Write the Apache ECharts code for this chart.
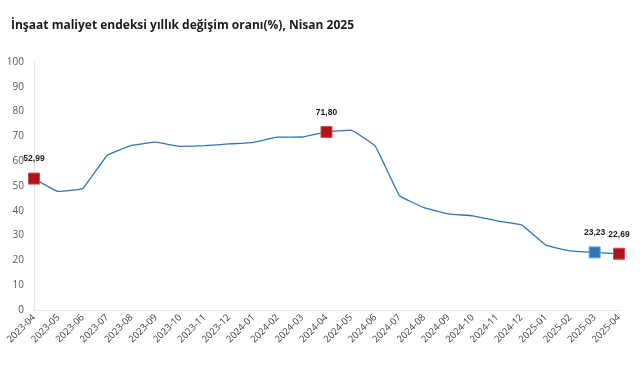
<!DOCTYPE html>
<html>
<head>
<meta charset="utf-8">
<script src="https://cdn.jsdelivr.net/npm/echarts@6/dist/echarts.min.js"></script>
<style>
html,body{margin:0;padding:0;background:#fff;}
#chart{width:641px;height:380px;}
</style>
</head>
<body>
<div id="chart"></div>
<script>
const titleText = 'İnşaat maliyet endeksi yıllık değişim oranı(%), Nisan 2025';
const categories = ['2023-04','2023-05','2023-06','2023-07','2023-08','2023-09','2023-10','2023-11','2023-12','2024-01','2024-02','2024-03','2024-04','2024-05','2024-06','2024-07','2024-08','2024-09','2024-10','2024-11','2024-12','2025-01','2025-02','2025-03','2025-04'];
const values = [52.99,47.80,48.99,62.34,66.41,67.68,65.95,66.26,66.95,67.63,69.71,69.75,71.80,72.50,66.05,46.07,41.28,38.72,37.98,35.96,34.33,26.13,23.85,23.23,22.69];
const redIdx = [0,12,24];
const blueIdx = [23];
const yTicks = [0,10,20,30,40,50,60,70,80,90,100];

const data = values.map((v, i) => {
  if (redIdx.includes(i)) {
    return {value: v, symbol: 'rect', symbolSize: 11,
      itemStyle: {color: '#b0121b', borderColor: '#d24a4f', borderWidth: 1},
      label: {show: true}};
  }
  if (blueIdx.includes(i)) {
    return {value: v, symbol: 'rect', symbolSize: 11,
      itemStyle: {color: '#2e75b6', borderColor: '#6fa8dc', borderWidth: 1},
      label: {show: true}};
  }
  return {value: v, symbol: 'none'};
});

const chart = echarts.init(document.getElementById('chart'), null, {renderer: 'canvas'});
chart.setOption({
  animation: false,
  backgroundColor: '#ffffff',
  title: {
    text: titleText, left: 6, top: 15,
    textStyle: {fontFamily: 'Open Sans', fontSize: 12, fontWeight: 'bold', color: '#1a1a1a'}
  },
  grid: {left: 34, right: 22, top: 62, bottom: 70, containLabel: false},
  xAxis: {
    type: 'category', data: categories, boundaryGap: false,
    axisLine: {show: true, lineStyle: {color: '#e6e6e6', width: 1}},
    axisTick: {show: false},
    axisLabel: {rotate: 45, interval: 0, fontFamily: 'Open Sans', fontSize: 9.5, color: '#404040', margin: 6}
  },
  yAxis: {
    type: 'value', min: yTicks[0], max: yTicks[yTicks.length-1], interval: 10,
    axisLine: {show: true, lineStyle: {color: '#e6e6e6', width: 1}},
    axisTick: {show: false},
    splitLine: {show: false},
    axisLabel: {fontFamily: 'Open Sans', fontSize: 10, color: '#595959', margin: 10}
  },
  series: [{
    type: 'line', data: data, smooth: 0.08,
    lineStyle: {color: '#2e75b6', width: 1.3},
    itemStyle: {color: '#2e75b6'},
    label: {
      show: false, position: 'top', distance: 9,
      fontFamily: 'Liberation Sans', fontSize: 8.5, fontWeight: 'bold', color: '#1a1a1a',
      formatter: p => p.value.toFixed(2).replace('.', ',')
    },
    z: 3
  }]
});
</script>
</body>
</html>
